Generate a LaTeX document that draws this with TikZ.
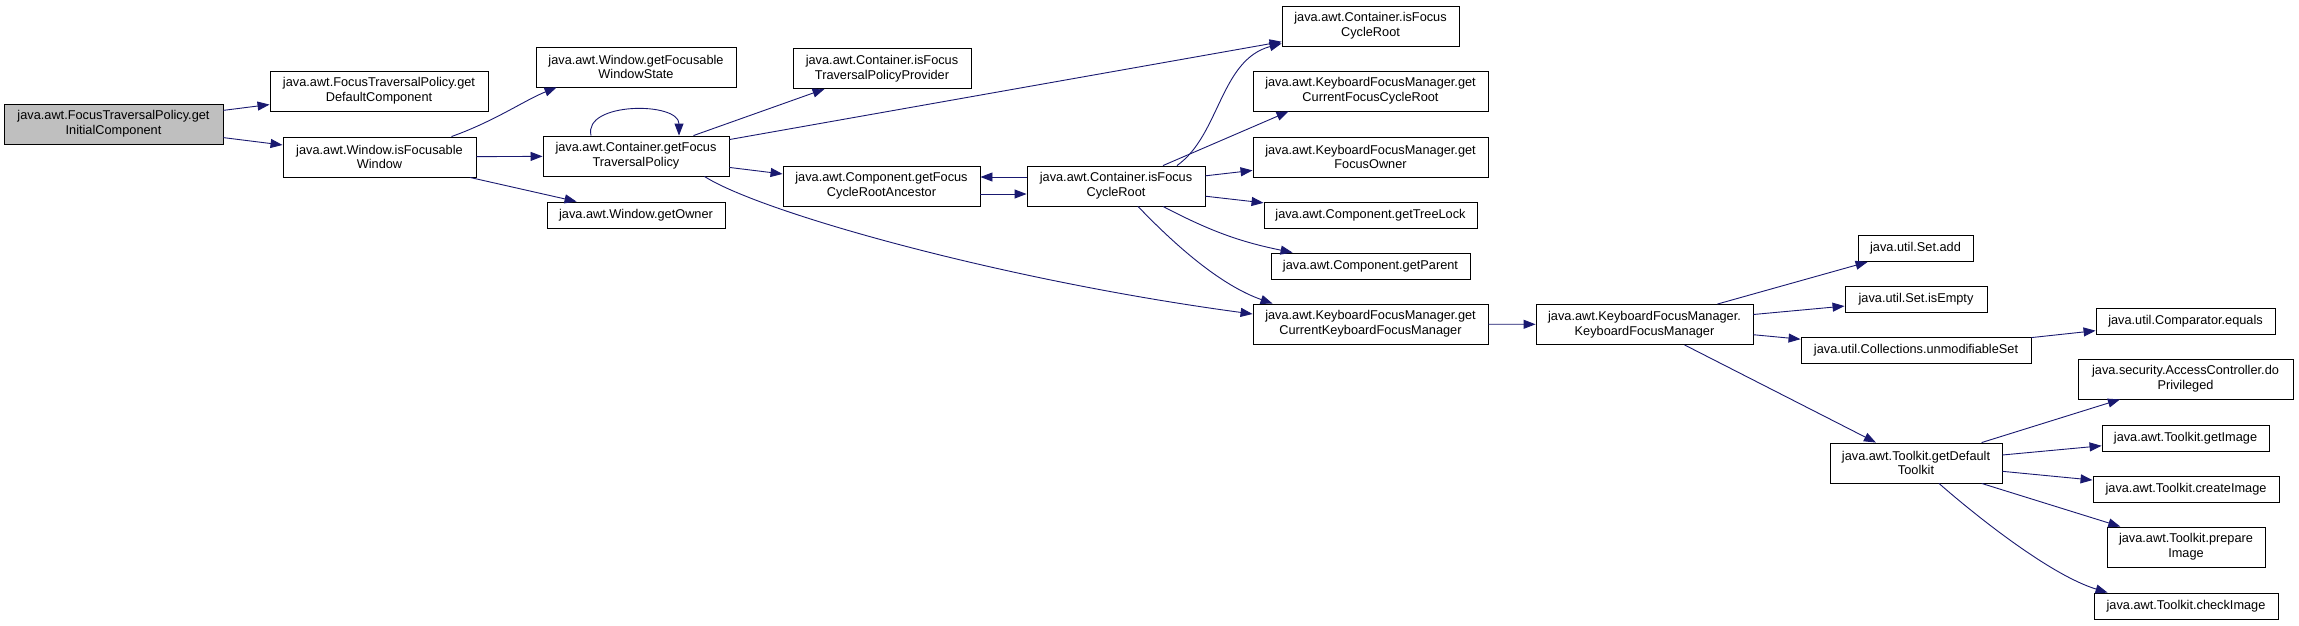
\documentclass[tikz,border=0pt]{standalone}
\usepackage{fontspec}
\setmainfont{Liberation Sans}
\usepackage{xcolor}
\usepackage{tikz}
\usetikzlibrary{arrows.meta, calc}

\definecolor{edgeblue}{HTML}{191970}
\definecolor{rootgray}{HTML}{BFBFBF}

\begin{document}
\begin{tikzpicture}[
  x=1pt, y=-1pt,
  fn/.style={
    rectangle, draw=black, fill=white, line width=0.9pt,
    minimum width=#1, minimum height=40pt, inner sep=1pt,
    align=center, font=\fontsize{12.75}{14.7}\selectfont
  },
  fn/.default=180pt,
  single/.style={minimum height=26pt},
  root/.style={fn=#1, fill=rootgray},
  call/.style={
    -{Triangle[length=12pt,width=9pt]}, line width=0.9pt, draw=edgeblue
  }
]

\fill[white] (0,0) rectangle (2299,625);
\useasboundingbox (0,0) rectangle (2299,625);

% Column 1: the function itself
\node[root=219pt] (initial) at (113.5,124) {java.awt.FocusTraversalPolicy.get\\InitialComponent};

% Column 2
\node[fn=218pt] (defaultComp) at (379,91) {java.awt.FocusTraversalPolicy.get\\DefaultComponent};
\node[fn=193pt] (isFocWin) at (379.5,157) {java.awt.Window.isFocusable\\Window};

% Column 3
\node[fn=200pt] (focWinState) at (636,67) {java.awt.Window.getFocusable\\WindowState};
\node[fn=186pt] (getFTP) at (636,156) {java.awt.Container.getFocus\\TraversalPolicy};
\node[fn=178pt, single] (getOwner) at (636,215) {java.awt.Window.getOwner};

% Column 4
\node[fn=178pt] (isFTPP) at (882,68.5) {java.awt.Container.isFocus\\TraversalPolicyProvider};
\node[fn=197pt] (getFCRA) at (881.5,186) {java.awt.Component.getFocus\\CycleRootAncestor};

% Column 5
\node[fn=178pt] (isFCRmid) at (1116,186) {java.awt.Container.isFocus\\CycleRoot};

% Column 6
\node[fn=177pt] (isFCRtop) at (1370.5,26) {java.awt.Container.isFocus\\CycleRoot};
\node[fn=235pt] (getCFCR) at (1370.5,91) {java.awt.KeyboardFocusManager.get\\CurrentFocusCycleRoot};
\node[fn=235pt] (focOwner) at (1370.5,157) {java.awt.KeyboardFocusManager.get\\FocusOwner};
\node[fn=213pt, single] (treeLock) at (1370.5,215) {java.awt.Component.getTreeLock};
\node[fn=199pt, single] (getParent) at (1370.5,266) {java.awt.Component.getParent};
\node[fn=235pt] (getCKFM) at (1370.5,324) {java.awt.KeyboardFocusManager.get\\CurrentKeyboardFocusManager};

% Column 7
\node[fn=217pt] (kfm) at (1644.5,324.5) {java.awt.KeyboardFocusManager.\\KeyboardFocusManager};

% Column 8
\node[fn=115pt, single] (setAdd) at (1915.5,248.5) {java.util.Set.add};
\node[fn=142pt, single] (setEmpty) at (1916,299.5) {java.util.Set.isEmpty};
\node[fn=230pt, single] (unmodSet) at (1916,350) {java.util.Collections.unmodifiableSet};
\node[fn=172pt] (defToolkit) at (1916,463) {java.awt.Toolkit.getDefault\\Toolkit};

% Column 9
\node[fn=179pt, single] (compEquals) at (2185.5,321) {java.util.Comparator.equals};
\node[fn=215pt] (doPriv) at (2185.5,379) {java.security.AccessController.do\\Privileged};
\node[fn=167pt, single] (getImage) at (2185.5,438) {java.awt.Toolkit.getImage};
\node[fn=186pt, single] (createImage) at (2186,489) {java.awt.Toolkit.createImage};
\node[fn=158pt] (prepImage) at (2186,547) {java.awt.Toolkit.prepare\\Image};
\node[fn=184pt, single] (checkImage) at (2186,606) {java.awt.Toolkit.checkImage};

% Calls from the root
\draw[call] (initial) -- (defaultComp);
\draw[call] (initial) -- (isFocWin);

% Calls from isFocusableWindow
\draw[call] ($(isFocWin.north)+(72,0)$) .. controls (495,121) and (525,100) .. ($(focWinState.south west)+(21,0)$);
\draw[call] (isFocWin) -- (getFTP);
\draw[call] (isFocWin) -- (getOwner);

% Calls from getFocusTraversalPolicy
\draw[call] ($(getFTP.north)+(-45,0)$) .. controls +(-8,-34) and +(0,-34) .. ($(getFTP.north)+(43,0)$);
\draw[call] (getFTP) -- (isFTPP);
\draw[call] (getFTP) -- (isFCRtop);
\draw[call] (getFTP) -- (getFCRA);
\draw[call] ($(getFTP.south east)+(-25,0)$) .. controls (760,212) and (1000,280) .. ($(getCKFM.west)+(0,-10)$);

% getFocusCycleRootAncestor <-> isFocusCycleRoot
\draw[call] ($(getFCRA.east)+(0,8)$) -- ($(isFCRmid.west)+(0,8)$);
\draw[call] ($(isFCRmid.west)+(0,-9)$) -- ($(getFCRA.east)+(0,-9)$);

% Calls from isFocusCycleRoot
\draw[call] ($(isFCRmid.north)+(61,0)$) .. controls (1220,135) and (1220,60) .. ($(isFCRtop.south west)+(0,-3)$);
\draw[call] ($(isFCRmid.north)+(47,0)$) -- ($(getCFCR.south west)+(36,0)$);
\draw[call] (isFCRmid) -- (focOwner);
\draw[call] (isFCRmid) -- (treeLock);
\draw[call] ($(isFCRmid.south)+(47,0)$) to[bend right=8] ($(getParent.north west)+(22,0)$);
\draw[call] ($(isFCRmid.south)+(22,0)$) .. controls (1175,245) and (1220,285) .. ($(getCKFM.north west)+(20,0)$);

% KeyboardFocusManager chain
\draw[call] (getCKFM) -- (kfm);
\draw[call] (kfm) -- (setAdd);
\draw[call] (kfm) -- (setEmpty);
\draw[call] (kfm) -- (unmodSet);
\draw[call] (kfm) -- (defToolkit);
\draw[call] (unmodSet) -- (compEquals);

% Calls from getDefaultToolkit
\draw[call] (defToolkit) -- (doPriv);
\draw[call] (defToolkit) -- (getImage);
\draw[call] (defToolkit) -- (createImage);
\draw[call] (defToolkit) -- (prepImage);
\draw[call] ($(defToolkit.south)+(23,0)$) .. controls (1975,515) and (2050,575) .. ($(checkImage.north west)+(14,0)$);

\end{tikzpicture}
\end{document}
